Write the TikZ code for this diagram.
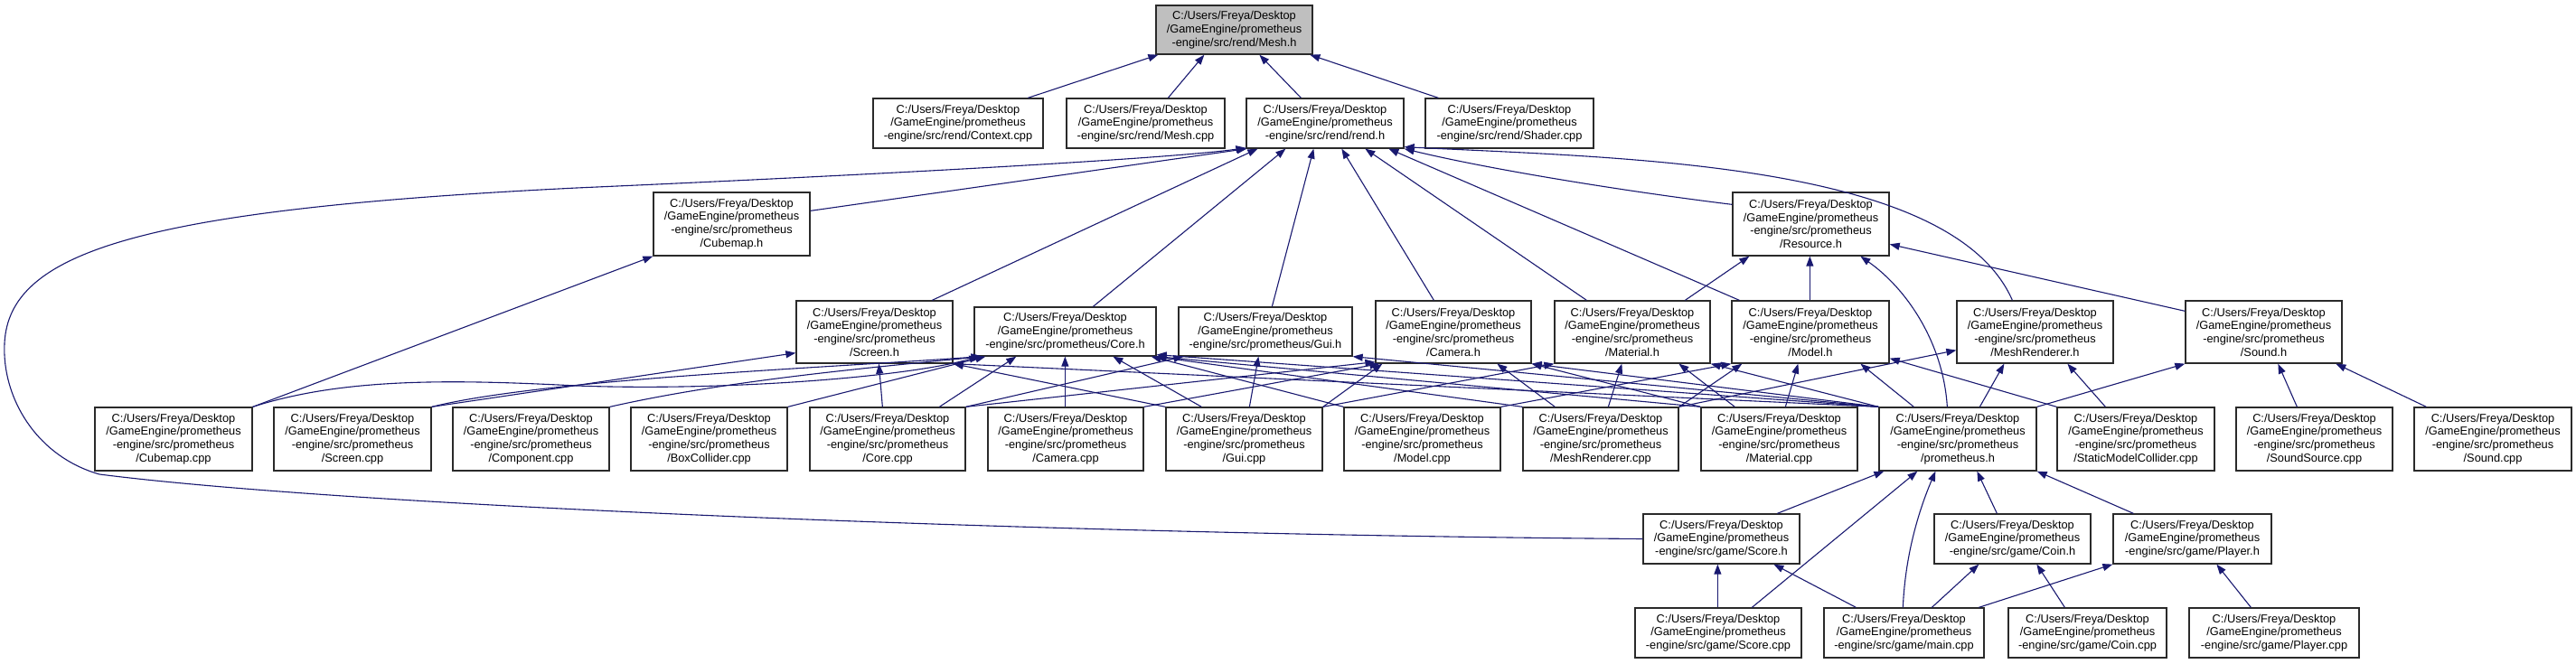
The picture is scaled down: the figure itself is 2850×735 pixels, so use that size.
\documentclass[tikz,border=0pt]{standalone}
\usepackage{fontspec}
\usetikzlibrary{arrows.meta,calc}
\newfontfamily\dxfont{Liberation Sans}
\definecolor{edgecol}{HTML}{191970}
\definecolor{boxline}{HTML}{2A2A2A}
\definecolor{curfill}{HTML}{BFBFBF}
\newcommand\dxp{C:/Users/Freya/Desktop\\/GameEngine/prometheus\\}
\begin{document}
\begin{tikzpicture}[x=1pt,y=-1pt,
  box/.style={draw=boxline,line width=1.3pt,fill=white,inner sep=0pt,align=center,
    font={\dxfont\fontsize{12.8}{14.7}\selectfont}},
  cur/.style={box,fill=curfill},
  edge/.style={draw=edgecol,line width=1.1pt,-{Triangle[length=11pt,width=8pt]}}]
\fill[white] (0,0) rectangle (2850,735);
\useasboundingbox (0,0) rectangle (2850,735);
% row 1
\node[cur,minimum width=173pt,minimum height=54pt] (meshh) at (1365.5,33) {\dxp -engine/src/rend/Mesh.h};
% row 2
\node[box,minimum width=188pt,minimum height=55pt] (ctx) at (1060,136.5) {\dxp -engine/src/rend/Context.cpp};
\node[box,minimum width=175pt,minimum height=55pt] (meshcpp) at (1267.5,136.5) {\dxp -engine/src/rend/Mesh.cpp};
\node[box,minimum width=174pt,minimum height=55pt] (rendh) at (1466,136.5) {\dxp -engine/src/rend/rend.h};
\node[box,minimum width=186pt,minimum height=55pt] (shader) at (1670,136.5) {\dxp -engine/src/rend/Shader.cpp};
% row 3
\node[box,minimum width=173pt,minimum height=70pt] (cubemaph) at (809.5,248) {\dxp -engine/src/prometheus\\/Cubemap.h};
\node[box,minimum width=173pt,minimum height=70pt] (resh) at (2003.5,248) {\dxp -engine/src/prometheus\\/Resource.h};
% row 4
\node[box,minimum width=173pt,minimum height=69pt] (screenh) at (967.5,367.5) {\dxp -engine/src/prometheus\\/Screen.h};
\node[box,minimum width=201pt,minimum height=54pt] (coreh) at (1178.5,367) {\dxp -engine/src/prometheus/Core.h};
\node[box,minimum width=192pt,minimum height=54pt] (guih) at (1400,367) {\dxp -engine/src/prometheus/Gui.h};
\node[box,minimum width=172pt,minimum height=69pt] (camh) at (1608,367.5) {\dxp -engine/src/prometheus\\/Camera.h};
\node[box,minimum width=172pt,minimum height=69pt] (math) at (1806,367.5) {\dxp -engine/src/prometheus\\/Material.h};
\node[box,minimum width=174pt,minimum height=69pt] (modelh) at (2003,367.5) {\dxp -engine/src/prometheus\\/Model.h};
\node[box,minimum width=173pt,minimum height=69pt] (mrh) at (2251.5,367.5) {\dxp -engine/src/prometheus\\/MeshRenderer.h};
\node[box,minimum width=173pt,minimum height=69pt] (soundh) at (2504.5,367.5) {\dxp -engine/src/prometheus\\/Sound.h};
% row 5
\node[box,minimum width=174pt,minimum height=70pt] (cubecpp) at (192,486) {\dxp -engine/src/prometheus\\/Cubemap.cpp};
\node[box,minimum width=174pt,minimum height=70pt] (screencpp) at (390,486) {\dxp -engine/src/prometheus\\/Screen.cpp};
\node[box,minimum width=173pt,minimum height=70pt] (compcpp) at (587.5,486) {\dxp -engine/src/prometheus\\/Component.cpp};
\node[box,minimum width=173pt,minimum height=70pt] (boxcpp) at (784.5,486) {\dxp -engine/src/prometheus\\/BoxCollider.cpp};
\node[box,minimum width=172pt,minimum height=70pt] (corecpp) at (982,486) {\dxp -engine/src/prometheus\\/Core.cpp};
\node[box,minimum width=172pt,minimum height=70pt] (camcpp) at (1179,486) {\dxp -engine/src/prometheus\\/Camera.cpp};
\node[box,minimum width=173pt,minimum height=70pt] (guicpp) at (1376.5,486) {\dxp -engine/src/prometheus\\/Gui.cpp};
\node[box,minimum width=173pt,minimum height=70pt] (modelcpp) at (1573.5,486) {\dxp -engine/src/prometheus\\/Model.cpp};
\node[box,minimum width=172pt,minimum height=70pt] (mrcpp) at (1771,486) {\dxp -engine/src/prometheus\\/MeshRenderer.cpp};
\node[box,minimum width=173pt,minimum height=70pt] (matcpp) at (1968.5,486) {\dxp -engine/src/prometheus\\/Material.cpp};
\node[box,minimum width=174pt,minimum height=70pt] (promh) at (2166,486) {\dxp -engine/src/prometheus\\/prometheus.h};
\node[box,minimum width=174pt,minimum height=70pt] (smc) at (2363,486) {\dxp -engine/src/prometheus\\/StaticModelCollider.cpp};
\node[box,minimum width=173pt,minimum height=70pt] (sscpp) at (2560.5,486) {\dxp -engine/src/prometheus\\/SoundSource.cpp};
\node[box,minimum width=174pt,minimum height=70pt] (soundcpp) at (2758,486) {\dxp -engine/src/prometheus\\/Sound.cpp};
% row 6
\node[box,minimum width=173pt,minimum height=55pt] (scoreh) at (1904.5,596.5) {\dxp -engine/src/game/Score.h};
\node[box,minimum width=173pt,minimum height=55pt] (coinh) at (2226.5,596.5) {\dxp -engine/src/game/Coin.h};
\node[box,minimum width=175pt,minimum height=55pt] (playerh) at (2425.5,596.5) {\dxp -engine/src/game/Player.h};
% row 7
\node[box,minimum width=184pt,minimum height=55pt] (scorecpp) at (1901,700.5) {\dxp -engine/src/game/Score.cpp};
\node[box,minimum width=177pt,minimum height=55pt] (maincpp) at (2106.5,700.5) {\dxp -engine/src/game/main.cpp};
\node[box,minimum width=175pt,minimum height=55pt] (coincpp) at (2309.5,700.5) {\dxp -engine/src/game/Coin.cpp};
\node[box,minimum width=188pt,minimum height=55pt] (playercpp) at (2516,700.5) {\dxp -engine/src/game/Player.cpp};
% edges to Mesh.h
\draw[edge] ($(ctx.north west)+(172,0)$) -- ($(meshh.south west)+(3,0)$);
\draw[edge] ($(meshcpp.north west)+(113,0)$) -- ($(meshh.south west)+(54,0)$);
\draw[edge] ($(rendh.north west)+(61,0)$) -- ($(meshh.south west)+(115,0)$);
\draw[edge] ($(shader.north west)+(15,0)$) -- ($(meshh.south west)+(171,0)$);
% edges to rend.h
\draw[edge] ($(cubemaph.north east)+(0,21)$) -- ($(rendh.south west)+(1,0)$);
\draw[edge] (scoreh.west) .. controls (1200,592) and (400,562) .. (110,525) .. controls (40,505) and (2,440) .. (5,380) .. controls (10,280) and (150,232) .. (638,208) .. controls (1000,192) and (1300,175) .. ($(rendh.south west)+(0,-1)$);
\draw[edge] ($(screenh.north west)+(151,0)$) -- ($(rendh.south west)+(13,0)$);
\draw[edge] ($(coreh.north west)+(132,0)$) -- ($(rendh.south west)+(44,0)$);
\draw[edge] ($(guih.north west)+(104,0)$) -- ($(rendh.south west)+(75,0)$);
\draw[edge] ($(camh.north west)+(65,0)$) -- ($(rendh.south west)+(106,0)$);
\draw[edge] ($(math.north west)+(36,0)$) -- ($(rendh.south west)+(132,0)$);
\draw[edge] ($(modelh.north west)+(9,0)$) -- ($(rendh.south west)+(158,0)$);
\draw[edge] ($(resh.north west)+(0,14)$) .. controls (1800,212) and (1650,188) .. (rendh.south east);
\draw[edge] ($(mrh.north west)+(62,0)$) .. controls (2160,180) and (1800,175) .. ($(rendh.south east)+(0,-2)$);
% edges to Resource.h
\draw[edge] ($(math.north west)+(145,0)$) -- ($(resh.south west)+(19,0)$);
\draw[edge] ($(modelh.north west)+(87,0)$) -- ($(resh.south west)+(86,0)$);
\draw[edge] ($(promh.north west)+(76,0)$) .. controls (2150,380) and (2110,320) .. ($(resh.south west)+(142,0)$);
\draw[edge] ($(soundh.north west)+(0,12)$) -- ($(resh.north east)+(0,58)$);
% edges to Cubemap.h
\draw[edge] (cubecpp.north east) -- (cubemaph.south west);
% edges to Core.h
\draw[edge] (cubecpp.north east) .. controls (380,418) and (500,420) .. (638,427) .. controls (800,433) and (1000,418) .. ($(coreh.south west)+(6,0)$);
\draw[edge] (screencpp.north east) .. controls (600,420) and (900,408) .. ($(coreh.south west)+(8,0)$);
\draw[edge] (compcpp.north east) .. controls (800,422) and (950,408) .. ($(coreh.south west)+(10,0)$);
\draw[edge] (boxcpp.north east) -- ($(coreh.south west)+(13,0)$);
\draw[edge] ($(corecpp.north west)+(144,0)$) -- ($(coreh.south west)+(47,0)$);
\draw[edge] ($(camcpp.north west)+(86,0)$) -- ($(coreh.south west)+(101,0)$);
\draw[edge] ($(guicpp.north west)+(40,0)$) -- ($(coreh.south west)+(154,0)$);
\draw[edge] (modelcpp.north west) -- ($(coreh.south east)+(-6,0)$);
\draw[edge] (mrcpp.north west) -- ($(coreh.south east)+(-2,0)$);
\draw[edge] (matcpp.north west) -- (coreh.south east);
\draw[edge] (promh.north west) -- ($(coreh.south east)+(0,-2)$);
% edges to Screen.h
\draw[edge] (screencpp.north east) -- ($(screenh.south west)+(0,-12)$);
\draw[edge] ($(corecpp.north west)+(81,0)$) -- ($(screenh.south west)+(92,0)$);
\draw[edge] (guicpp.north west) -- (screenh.south east);
\draw[edge] (promh.north west) -- (screenh.south east);
% edges to Gui.h
\draw[edge] (corecpp.north east) -- ($(guih.south west)+(6,0)$);
\draw[edge] ($(guicpp.north west)+(93,0)$) -- ($(guih.south west)+(89,0)$);
\draw[edge] (promh.north west) -- (guih.south east);
% edges to Camera.h
\draw[edge] (corecpp.north east) -- ($(camh.south west)+(0,-2)$);
\draw[edge] (camcpp.north east) -- ($(camh.south west)+(5,0)$);
\draw[edge] (guicpp.north east) -- ($(camh.south west)+(8,0)$);
\draw[edge] ($(mrcpp.north west)+(36,0)$) -- ($(camh.south west)+(135,0)$);
\draw[edge] (matcpp.north west) -- (camh.south east);
\draw[edge] (promh.north west) -- (camh.south east);
% edges to Material.h
\draw[edge] (guicpp.north east) -- (math.south west);
\draw[edge] ($(mrcpp.north west)+(95,0)$) -- ($(math.south west)+(75,0)$);
\draw[edge] ($(matcpp.north west)+(38,0)$) -- ($(math.south west)+(138,0)$);
\draw[edge] (promh.north west) -- (math.south east);
% edges to Model.h
\draw[edge] (modelcpp.north east) -- (modelh.south west);
\draw[edge] (mrcpp.north east) -- ($(modelh.south west)+(12,0)$);
\draw[edge] ($(matcpp.north west)+(94,0)$) -- ($(modelh.south west)+(74,0)$);
\draw[edge] ($(promh.north west)+(39,0)$) -- ($(modelh.south west)+(143,0)$);
\draw[edge] (smc.north west) -- ($(modelh.south east)+(0,-6)$);
% edges to MeshRenderer.h
\draw[edge] (mrcpp.north east) -- ($(mrh.south west)+(0,-15)$);
\draw[edge] ($(promh.north west)+(112,0)$) -- ($(mrh.south west)+(53,0)$);
\draw[edge] ($(smc.north west)+(54,0)$) -- ($(mrh.south west)+(123,0)$);
% edges to Sound.h
\draw[edge] (promh.north east) -- (soundh.south west);
\draw[edge] ($(sscpp.north west)+(68,0)$) -- ($(soundh.south west)+(103,0)$);
\draw[edge] ($(soundcpp.north west)+(14,0)$) -- ($(soundh.south west)+(167,0)$);
% edges to prometheus.h
\draw[edge] ($(scoreh.north west)+(149,0)$) -- ($(promh.south west)+(6,0)$);
\draw[edge] ($(scorecpp.north west)+(130,0)$) -- ($(promh.south west)+(43,0)$);
\draw[edge] ($(maincpp.north west)+(88,0)$) .. controls (2108,610) and (2125,560) .. ($(promh.south west)+(63,0)$);
\draw[edge] ($(coinh.north west)+(70,0)$) -- ($(promh.south west)+(109,0)$);
\draw[edge] ($(playerh.north west)+(23,0)$) -- (promh.south east);
% game edges
\draw[edge] ($(scorecpp.north west)+(92,0)$) -- ($(scoreh.south west)+(83,0)$);
\draw[edge] ($(maincpp.north west)+(36,0)$) -- ($(scoreh.south west)+(145,0)$);
\draw[edge] ($(maincpp.north west)+(120,0)$) -- ($(coinh.south west)+(50,0)$);
\draw[edge] ($(coincpp.north west)+(63,0)$) -- ($(coinh.south west)+(114,0)$);
\draw[edge] ($(maincpp.north west)+(172,0)$) -- (playerh.south west);
\draw[edge] ($(playercpp.north west)+(69,0)$) -- ($(playerh.south west)+(115,0)$);
\end{tikzpicture}
\end{document}
